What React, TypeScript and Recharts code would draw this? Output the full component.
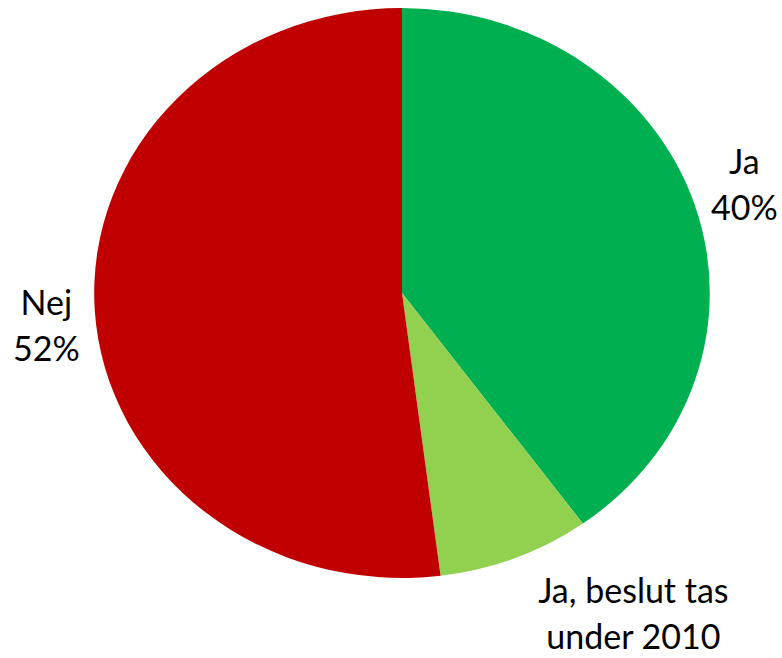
import { PieChart, Pie, Cell } from "recharts"

const names = ["Ja", "Ja, beslut tas under 2010", "Nej"]
const values = [40, 8, 52]
const colors = ["#00B050", "#92D050", "#C00000"]
const labelLines = [["Ja", "40%"], ["Ja, beslut tas", "under 2010"], ["Nej", "52%"]]

const data = names.map((name, i) => ({ name, value: values[i] }))

// the original pie is a bit wider than tall, so the svg gets stretched and the text squeezed back
const SX = 1.08
const CX = 402
const CY = 293
const FONT = 34
const LINE = 46

let ctx: CanvasRenderingContext2D | null = null
function textWidth(s: string) {
  if (!ctx) ctx = document.createElement("canvas").getContext("2d")
  if (!ctx) return s.length * FONT * 0.5
  ctx.font = `${FONT}px Lato`
  return ctx.measureText(s).width
}

function renderLabel(props: any) {
  const { cx, cy, midAngle, outerRadius, index } = props
  const rad = Math.PI / 180
  const cos = Math.cos(midAngle * rad)
  const sin = Math.sin(midAngle * rad)
  const d = outerRadius + 14
  const px = cx + SX * d * cos
  const py = cy - d * sin
  const lines = labelLines[index]
  const w = Math.max(...lines.map(textWidth))
  const boxCx = (cos >= 0 ? px + w / 2 : px - w / 2) + 20 * sin * sin * Math.sign(cos)
  const boxCy = py - sin * 47 + (cos < 0 ? 12 : 0)
  const b1 = boxCy - 12
  const xs = cx + (boxCx - cx) / SX
  return (
    <text
      key={index}
      transform={`translate(${xs},${b1}) scale(${1 / SX},1)`}
      textAnchor="middle"
      fontFamily="Lato"
      fontSize={FONT}
      fill="#000"
    >
      {lines.map((l, i) => (
        <tspan key={i} x={0} dy={i === 0 ? 0 : LINE}>
          {l}
        </tspan>
      ))}
    </text>
  )
}

export default function App() {
  return (
    <div style={{ position: "absolute", left: 0, top: 0, width: 782, height: 658, background: "#fff" }}>
      <div style={{ transform: `scaleX(${SX})`, transformOrigin: `${CX}px ${CY}px` }}>
        <PieChart width={782} height={658} margin={{ top: 0, right: 0, bottom: 0, left: 0 }}>
          <Pie
            data={data}
            dataKey="value"
            nameKey="name"
            cx={CX}
            cy={CY}
            outerRadius={285}
            startAngle={90}
            endAngle={-270}
            stroke="none"
            label={renderLabel}
            labelLine={false}
            isAnimationActive={false}
          >
            {data.map((_, i) => (
              <Cell key={i} fill={colors[i]} />
            ))}
          </Pie>
        </PieChart>
      </div>
    </div>
  )
}
